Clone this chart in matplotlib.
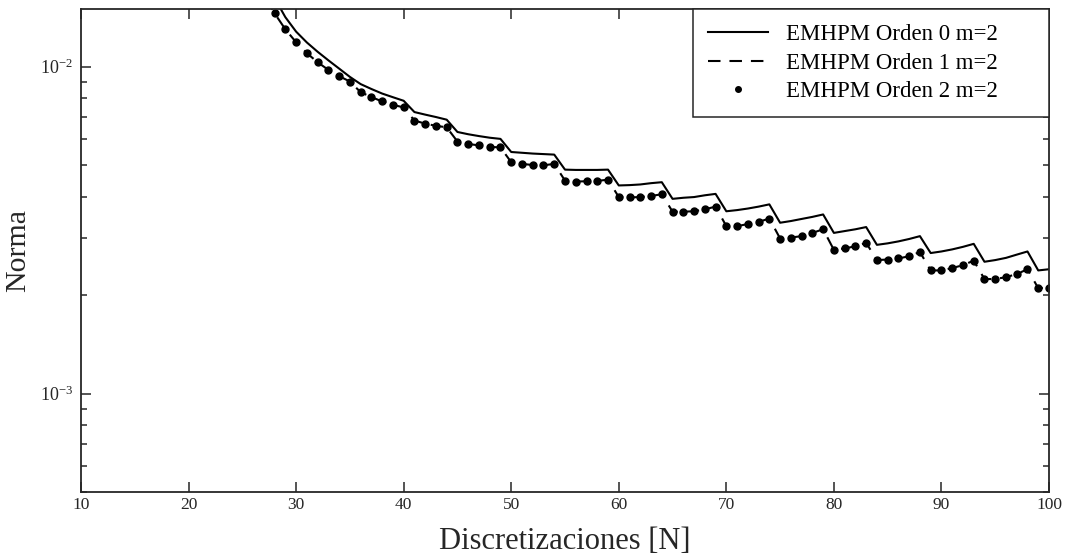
import matplotlib
matplotlib.use("Agg")
import matplotlib.pyplot as plt
from matplotlib.ticker import LogLocator, NullFormatter, FixedLocator, FuncFormatter
import math

# ---- data ----
N = list(range(27, 101))

orden0 = [0.0183, 0.0162, 0.01416, 0.01279, 0.01185, 0.01110, 0.01045, 0.00986, 0.00930,
          0.00884, 0.00854, 0.00827, 0.00806, 0.00786,
          0.00726, 0.00713, 0.00701, 0.00688,
          0.00631, 0.00621, 0.00613, 0.00606, 0.00601,
          0.00548, 0.00545, 0.00542, 0.00540, 0.00538,
          0.00484, 0.00483, 0.00483, 0.00483, 0.00484,
          0.00433, 0.00434, 0.00436, 0.00440, 0.00443,
          0.00394, 0.00397, 0.00399, 0.00404, 0.00408,
          0.00361, 0.00364, 0.00368, 0.00373, 0.00379,
          0.00333, 0.00337, 0.00342, 0.00347, 0.00353,
          0.00310, 0.00314, 0.00318, 0.00323,
          0.00285, 0.00288, 0.00292, 0.00297, 0.00303,
          0.00269, 0.00272, 0.00276, 0.00281, 0.00287,
          0.00253, 0.00256, 0.00260, 0.00266, 0.00272,
          0.00238, 0.00240]

orden1 = [0.0165, 0.01455, 0.01300, 0.01187, 0.01099, 0.01031, 0.00977, 0.00935, 0.00900,
          0.00835, 0.00807, 0.00782, 0.00764, 0.00750,
          0.00684, 0.00669, 0.00659, 0.00652,
          0.00590, 0.00580, 0.00574, 0.00568, 0.00566,
          0.00510, 0.00504, 0.00500, 0.00499, 0.00504,
          0.00448, 0.00445, 0.00446, 0.00447, 0.00451,
          0.00399, 0.00398, 0.00399, 0.00402, 0.00407,
          0.00360, 0.00360, 0.00361, 0.00366, 0.00373,
          0.00325, 0.00325, 0.00330, 0.00335, 0.00343,
          0.00298, 0.00300, 0.00303, 0.00310, 0.00318,
          0.00275, 0.00278, 0.00282, 0.00289,
          0.00256, 0.00257, 0.00259, 0.00263, 0.00271,
          0.00238, 0.00238, 0.00242, 0.00247, 0.00255,
          0.00224, 0.00224, 0.00227, 0.00232, 0.00240,
          0.00210, 0.00211]

orden2 = [0.0165, 0.01455, 0.01300, 0.01187, 0.01099, 0.01031, 0.00977, 0.00935, 0.00900,
          0.00835, 0.00807, 0.00782, 0.00764, 0.00750,
          0.00684, 0.00669, 0.00659, 0.00652,
          0.00590, 0.00580, 0.00574, 0.00568, 0.00566,
          0.00510, 0.00504, 0.00500, 0.00499, 0.00504,
          0.00448, 0.00445, 0.00446, 0.00447, 0.00451,
          0.00399, 0.00398, 0.00399, 0.00402, 0.00407,
          0.00360, 0.00360, 0.00361, 0.00366, 0.00373,
          0.00325, 0.00325, 0.00330, 0.00335, 0.00343,
          0.00298, 0.00300, 0.00303, 0.00310, 0.00318,
          0.00275, 0.00278, 0.00282, 0.00289,
          0.00256, 0.00257, 0.00259, 0.00263, 0.00271,
          0.00238, 0.00238, 0.00242, 0.00247, 0.00255,
          0.00224, 0.00224, 0.00227, 0.00232, 0.00240,
          0.00210, 0.00211]

labels = ["EMHPM Orden 0 m=2", "EMHPM Orden 1 m=2", "EMHPM Orden 2 m=2"]
xticks = [10, 20, 30, 40, 50, 60, 70, 80, 90, 100]

# ---- style ----
plt.rcParams['font.family'] = ['Liberation Serif', 'DejaVu Serif']
plt.rcParams['mathtext.fontset'] = 'custom'
plt.rcParams['mathtext.rm'] = 'Liberation Serif'
plt.rcParams['mathtext.it'] = 'Liberation Serif:italic'
plt.rcParams['mathtext.default'] = 'regular'

axcol = '#262626'
fig = plt.figure(figsize=(10.65, 5.58), dpi=100)
ax = fig.add_axes([81/1065, 1 - 492/558, (1049-81)/1065, (492-9)/558])

ax.plot(N, orden0, color='black', lw=1.5, ls='-', label=labels[0])
ax.plot(N, orden1, color='black', lw=1.5, ls=(0, (6, 4.3)), label=labels[1])
ax.plot(N, orden2, color='black', ls='none', marker='o', ms=5, label=labels[2])

ax.set_yscale('log')
ax.set_xlim(10, 100)
ax.set_ylim(5e-4, 1.5e-2)
ax.xaxis.set_major_locator(FixedLocator(xticks))
ax.yaxis.set_major_locator(LogLocator(base=10))
ax.yaxis.set_major_formatter(FuncFormatter(
    lambda v, p: r'$10^{\mathrm{-%d}}$' % round(-math.log10(v)) if v < 1 else r'$10^{%d}$' % round(math.log10(v))))
ax.yaxis.set_minor_locator(LogLocator(base=10, subs=range(2, 10)))
ax.yaxis.set_minor_formatter(NullFormatter())

ax.tick_params(which='both', direction='in', top=True, right=True, colors=axcol)
ax.tick_params(axis='x', labelsize=12.5)
ax.tick_params(axis='y', labelsize=13, pad=6)
ax.tick_params(which='major', length=7.5, width=1.1)
ax.tick_params(which='minor', length=4, width=1.1)
for s in ax.spines.values():
    s.set_color(axcol)
    s.set_linewidth(1.3)

ax.set_xlabel('Discretizaciones [N]', fontsize=22, color='#262626', labelpad=10.5)
ax.set_ylabel('Norma', fontsize=21.5, color='#262626', labelpad=6)

leg = ax.legend(loc='upper left', bbox_to_anchor=(0.632, 0.0, 0.368, 1.0), mode='expand',
                borderaxespad=0, fontsize=16.5, frameon=True, fancybox=False,
                handlelength=2.65, handletextpad=0.75, labelspacing=0.33,
                borderpad=0.65, markerscale=0.8)
leg.get_frame().set_edgecolor(axcol)
leg.get_frame().set_linewidth(1.1)
leg.get_frame().set_alpha(1)

fig.savefig('out.png', dpi=100)
